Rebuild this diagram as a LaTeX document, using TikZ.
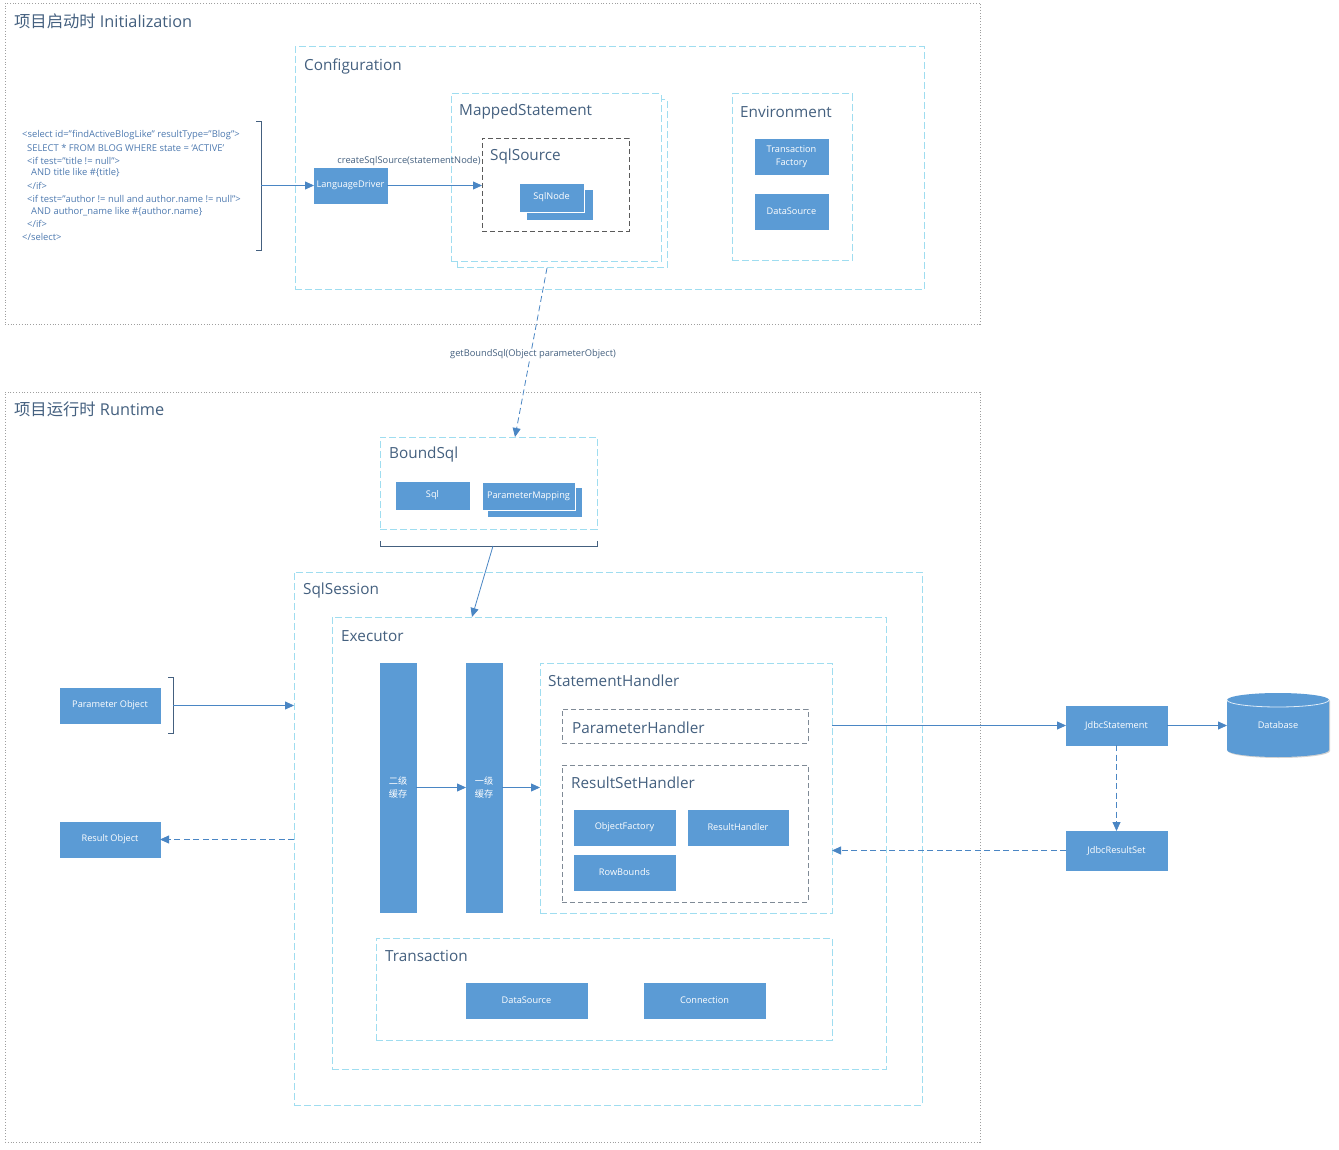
\documentclass[tikz,border=0pt]{standalone}
\usepackage{fontspec}
\setmainfont{Open Sans}
\newfontfamily\cjk{Noto Sans CJK SC}
\usetikzlibrary{arrows.meta,fit,shadows,calc}
\definecolor{boxblue}{HTML}{5B9BD5}
\definecolor{cyanline}{HTML}{9FDDF0}
\definecolor{titlec}{HTML}{44607F}
\definecolor{arrowc}{HTML}{4A86C4}
\definecolor{xmlc}{HTML}{4E7AB0}
\definecolor{grayd}{HTML}{5A5A5A}
\definecolor{grayl}{HTML}{7F8A96}
\begin{document}
\begin{tikzpicture}[x=1pt,y=-1pt,
 outerbox/.style={draw=gray!75, line width=0.7pt, dash pattern=on 1pt off 1.8pt, inner sep=0, outer sep=0},
 cont/.style={draw=cyanline, line width=1pt, dash pattern=on 7pt off 3pt, fill=white, inner sep=0, outer sep=0},
 graycont/.style={draw=grayd, line width=0.8pt, dash pattern=on 5pt off 3pt, fill=white, inner sep=0, outer sep=0},
 bbox/.style={fill=boxblue, draw=boxblue, line width=0.4pt, text=white, font=\fontsize{9.2}{13}\selectfont, inner sep=1pt, outer sep=0, align=center, drop shadow={shadow xshift=1pt, shadow yshift=-1pt, opacity=0.35, fill=gray}},
 cache/.style={bbox, font=\cjk\fontsize{9.2}{13}\selectfont},
 title/.style={anchor=west, text=titlec, font=\fontsize{15.3}{18}\selectfont, inner sep=0, yshift=-2pt},
 bigtitle/.style={anchor=west, text=titlec, font=\fontsize{16.3}{19}\selectfont, inner sep=0, yshift=-1pt},
 xml/.style={anchor=west, text=xmlc, font=\fontsize{9.4}{10}\selectfont, inner sep=0, yshift=-1pt},
 elabel/.style={text=titlec, font=\fontsize{9.3}{11}\selectfont, inner sep=1pt, yshift=-1.5pt},
 arr/.style={draw=arrowc, line width=0.8pt, -{Triangle[length=9pt,width=8pt]}},
 darr/.style={arr, dash pattern=on 6pt off 3.5pt},
 brk/.style={draw=titlec, line width=0.8pt}
]
\useasboundingbox (0,0) rectangle (1339,1150);
\fill[white] (0,0) rectangle (1339,1150);

% ---------- outer areas
\node[outerbox, fit={(5,3) (980,324)}] (init) {};
\node[bigtitle] (tinit) at (14,20) {{\cjk 项目启动时} Initialization};
\node[outerbox, fit={(5,392) (980,1142)}] (run) {};
\node[bigtitle] (trun) at (14,408) {{\cjk 项目运行时} Runtime};

% ---------- Configuration
\node[cont, fit={(295,47) (924,290)}] (cfg) {};
\node[title] (tcfg) at (304,64) {Configuration};
\node[cont, fit={(457,100) (667,268)}] (msb) {};
\node[cont, fit={(451,94) (661,262)}] (ms) {};
\node[title] (tms) at (459,110) {MappedStatement};
\node[graycont, fit={(482,138) (629,231)}] (ssrc) {};
\node[title] (tssrc) at (490,155) {SqlSource};
\node[bbox, minimum width=65, minimum height=29] (snb) at (559.5,204.5) {};
\node[bbox, draw=white, minimum width=65, minimum height=29] (sn) at (551.5,197.5) {SqlNode};

\node[cont, fit={(732,94) (852,261)}] (env) {};
\node[title] (tenv) at (740,110) {Environment};
\node[bbox, minimum width=73, minimum height=35] (tf) at (791.5,156.5) {Transaction\\Factory};
\node[bbox, minimum width=73, minimum height=35] (eds) at (791.5,211.5) {DataSource};

% ---------- XML
\node[xml] (x1) at (22,134) {<select id="findActiveBlogLike" resultType="Blog">};
\node[xml] (x2) at (27,147) {SELECT * FROM BLOG WHERE state = `ACTIVE'};
\node[xml] (x3) at (27,160) {<if test="title != null">};
\node[xml] (x4) at (31,172) {AND title like \#\{title\}};
\node[xml] (x5) at (27,185) {</if>};
\node[xml] (x6) at (27,198) {<if test="author != null and author.name != null">};
\node[xml] (x7) at (31,211) {AND author\_name like \#\{author.name\}};
\node[xml] (x8) at (27,223) {</if>};
\node[xml] (x9) at (22,236) {</select>};
\draw[brk] (256,121) -- (261,121) -- (261,250) -- (256,250);
\coordinate (br1) at (261,185.5);

\node[bbox, minimum width=73, minimum height=35] (ld) at (350.5,185.5) {LanguageDriver};
\draw[arr] (br1) -- (ld.west);
\draw[arr] (ld.east) -- (ssrc.west |- ld.east);
\node[elabel] (lcs) at (409,160) {createSqlSource(statementNode)};

% ---------- BoundSql
\node[cont, fit={(380,437) (597,529)}] (bs) {};
\node[title] (tbs) at (389,453) {BoundSql};
\node[bbox, minimum width=73, minimum height=27] (sql) at (432.5,495.5) {Sql};
\node[bbox, minimum width=93, minimum height=28] (pmb) at (534.5,502) {};
\node[bbox, draw=white, minimum width=93, minimum height=28] (pm) at (528.5,496) {ParameterMapping};
\draw[darr] ($(msb.south west)+(90,0)$) -- ($(bs.north west)+(135,0)$);
\node[elabel, fill=white] (lgb) at (533,353) {getBoundSql(Object parameterObject)};
\draw[brk] (380,541) -- (380,546) -- (597,546) -- (597,541);
\coordinate (br2) at (493,546);

% ---------- SqlSession
\node[cont, fit={(294,572) (922,1105)}] (sess) {};
\node[title] (tsess) at (303,589) {SqlSession};
\node[cont, fit={(332,617) (886,1069)}] (exec) {};
\node[title] (texec) at (341,634) {Executor};
\draw[arr] (br2) -- ($(exec.north west)+(140,0)$);

\node[cache, minimum width=36, minimum height=249] (c2) at (398,787.5) {二级\\缓存};
\node[cache, minimum width=36, minimum height=249] (c1) at (484,787.5) {一级\\缓存};

\node[cont, fit={(540,663) (832,913)}] (sh) {};
\node[title] (tsh) at (548,679) {StatementHandler};
\node[graycont, draw=grayl, fit={(562,709) (808,743)}] (ph) {};
\node[title] (tph) at (572,726) {ParameterHandler};
\node[graycont, draw=grayl, fit={(562,765) (808,902)}] (rsh) {};
\node[title] (trsh) at (571,781) {ResultSetHandler};
\node[bbox, minimum width=101, minimum height=35] (of) at (624.5,827.5) {ObjectFactory};
\node[bbox, minimum width=100, minimum height=35] (rh) at (738,827.5) {ResultHandler};
\node[bbox, minimum width=101, minimum height=35] (rb) at (624.5,872.5) {RowBounds};

\draw[arr] (c2.east) -- (c1.west);
\draw[arr] (c1.east) -- (sh.west |- c1.east);

\node[cont, fit={(376,938) (832,1040)}] (tx) {};
\node[title] (ttx) at (385,954) {Transaction};
\node[bbox, minimum width=121, minimum height=35] (tds) at (526.5,1000.5) {DataSource};
\node[bbox, minimum width=121, minimum height=35] (conn) at (704.5,1000.5) {Connection};

% ---------- left side
\node[bbox, minimum width=100, minimum height=35] (po) at (110,705.5) {Parameter Object};
\draw[brk] (168,677) -- (173,677) -- (173,733) -- (168,733);
\coordinate (br3) at (173,705.5);
\draw[arr] (br3) -- (sess.west |- br3);
\node[bbox, minimum width=100, minimum height=35] (ro) at (110,839.5) {Result Object};
\draw[darr] (sess.west |- ro) -- (ro.east);

% ---------- right side
\node[bbox, minimum width=101, minimum height=39] (js) at (1116.5,725.5) {JdbcStatement};
\node[bbox, minimum width=101, minimum height=39] (jrs) at (1116.5,850.5) {JdbcResultSet};
\path[fill=boxblue, drop shadow={shadow xshift=1pt, shadow yshift=-1pt, opacity=0.35, fill=gray}]
  (1227,700) -- (1227,750) arc[start angle=180, end angle=360, x radius=51pt, y radius=7pt]
  -- (1329,700) arc[start angle=0, end angle=180, x radius=51pt, y radius=7pt] -- cycle;
\draw[white!80!boxblue, line width=0.8pt] (1227,700) arc[start angle=180, end angle=360, x radius=51pt, y radius=7pt];
\node[inner sep=0, outer sep=0, minimum width=102, minimum height=64, text=white, font=\fontsize{9.2}{13}\selectfont] (db) at (1278,725) {Database};

\draw[arr] (sh.east |- js.west) -- (js.west);
\draw[arr] (js.east) -- (db.west |- js.east);
\draw[darr] (js.south) -- (jrs.north);
\draw[darr] (jrs.west) -- (sh.east |- jrs.west);
\end{tikzpicture}
\end{document}
